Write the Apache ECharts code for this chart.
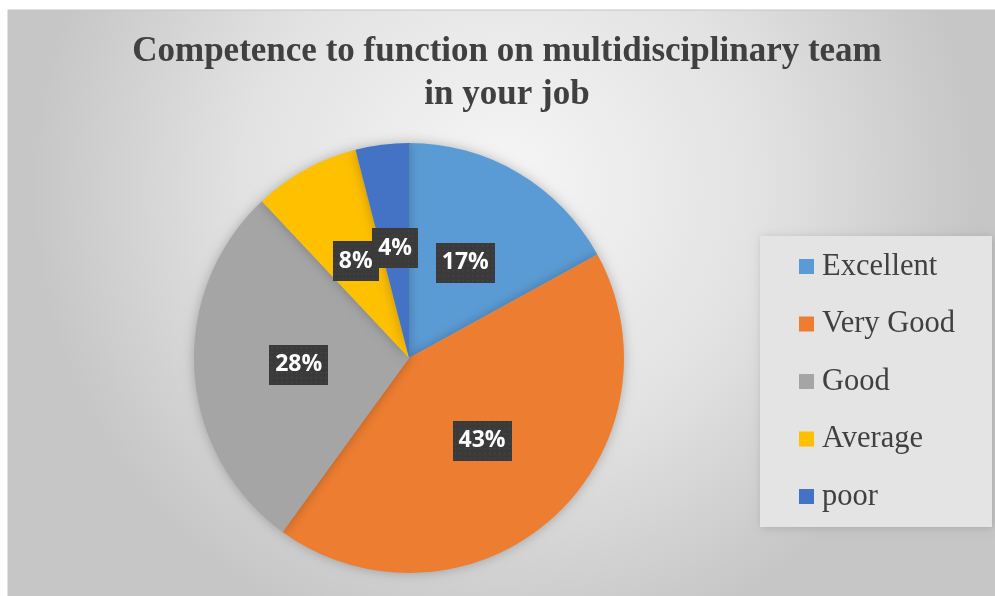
<!DOCTYPE html>
<html>
<head>
<meta charset="utf-8">
<script src="https://cdn.jsdelivr.net/npm/echarts@6/dist/echarts.min.js"></script>
<style>
html,body{margin:0;padding:0;background:#fff;}
#chart{width:995px;height:596px;}
</style>
</head>
<body>
<div id="chart"></div>
<script>
var categories = ['Excellent', 'Very Good', 'Good', 'Average', 'poor'];
var values = [17, 43, 28, 8, 4];
var colors = ['#5B9BD5', '#ED7D31', '#A5A5A5', '#FFC000', '#4472C4'];
var titleText = 'Competence to function on multidisciplinary team\nin your job';

// dotted dark texture for the data label boxes
function makeTexture() {
  var c = document.createElement('canvas');
  c.width = 60; c.height = 40;
  var ctx = c.getContext('2d');
  ctx.fillStyle = '#3a3a3a';
  ctx.fillRect(0, 0, 60, 40);
  ctx.fillStyle = '#474747';
  for (var y = 2; y < 40; y += 5) {
    for (var x = 2; x < 60; x += 5) {
      ctx.fillRect(x, y, 1.5, 1.5);
    }
  }
  return c;
}
var texture = makeTexture();

var chart = echarts.init(document.getElementById('chart'));
var option = {
  backgroundColor: '#ffffff',
  animation: false,
  graphic: [{
    type: 'rect',
    z: -10,
    silent: true,
    shape: {x: 8, y: 10, width: 990, height: 590},
    style: {
      fill: new echarts.graphic.RadialGradient(0.5, 0.3, 0.8, [
        {offset: 0, color: '#f6f6f6'},
        {offset: 0.55, color: '#e2e2e2'},
        {offset: 1, color: '#c6c6c6'}
      ]),
      stroke: '#c4c4c4',
      lineWidth: 1
    }
  }],
  title: {
    text: titleText,
    left: 507,
    textAlign: 'center',
    top: 30,
    padding: 0,
    textStyle: {
      fontFamily: 'Liberation Serif',
      fontWeight: 'bold',
      fontSize: 35,
      lineHeight: 43,
      color: '#404040'
    }
  },
  legend: {
    orient: 'vertical',
    left: 760,
    top: 236,
    padding: [15, 37, 15, 39],
    backgroundColor: '#e4e4e4',
    shadowBlur: 8,
    shadowColor: 'rgba(0,0,0,0.15)',
    shadowOffsetX: 1,
    shadowOffsetY: 1,
    itemWidth: 15,
    itemHeight: 15,
    itemGap: 26.5,
    icon: 'rect',
    data: categories,
    textStyle: {
      fontFamily: 'Liberation Serif',
      fontSize: 30.5,
      lineHeight: 30,
      color: '#404040',
      padding: [0, 0, 0, 3]
    }
  },
  series: [{
    type: 'pie',
    center: [409, 358],
    radius: 215,
    startAngle: 90,
    clockwise: true,
    percentPrecision: 0,
    avoidLabelOverlap: false,
    labelLayout: {hideOverlap: false},
    color: colors,
    itemStyle: {
      shadowBlur: 12,
      shadowColor: 'rgba(0,0,0,0.25)'
    },
    emphasis: {disabled: true},
    label: {
      position: 'inside',
      formatter: '{d}%',
      fontFamily: 'Open Sans',
      fontWeight: 'bold',
      fontSize: 23,
      lineHeight: 25,
      color: '#ffffff',
      backgroundColor: {image: texture},
      padding: [8, 6, 7, 6],
      shadowBlur: 6,
      shadowOffsetX: 3,
      shadowOffsetY: 3,
      shadowColor: 'rgba(0,0,0,0.45)'
    },
    labelLine: {show: false},
    data: categories.map(function (c, i) { return {name: c, value: values[i]}; })
  }]
};
chart.setOption(option);
</script>
</body>
</html>
